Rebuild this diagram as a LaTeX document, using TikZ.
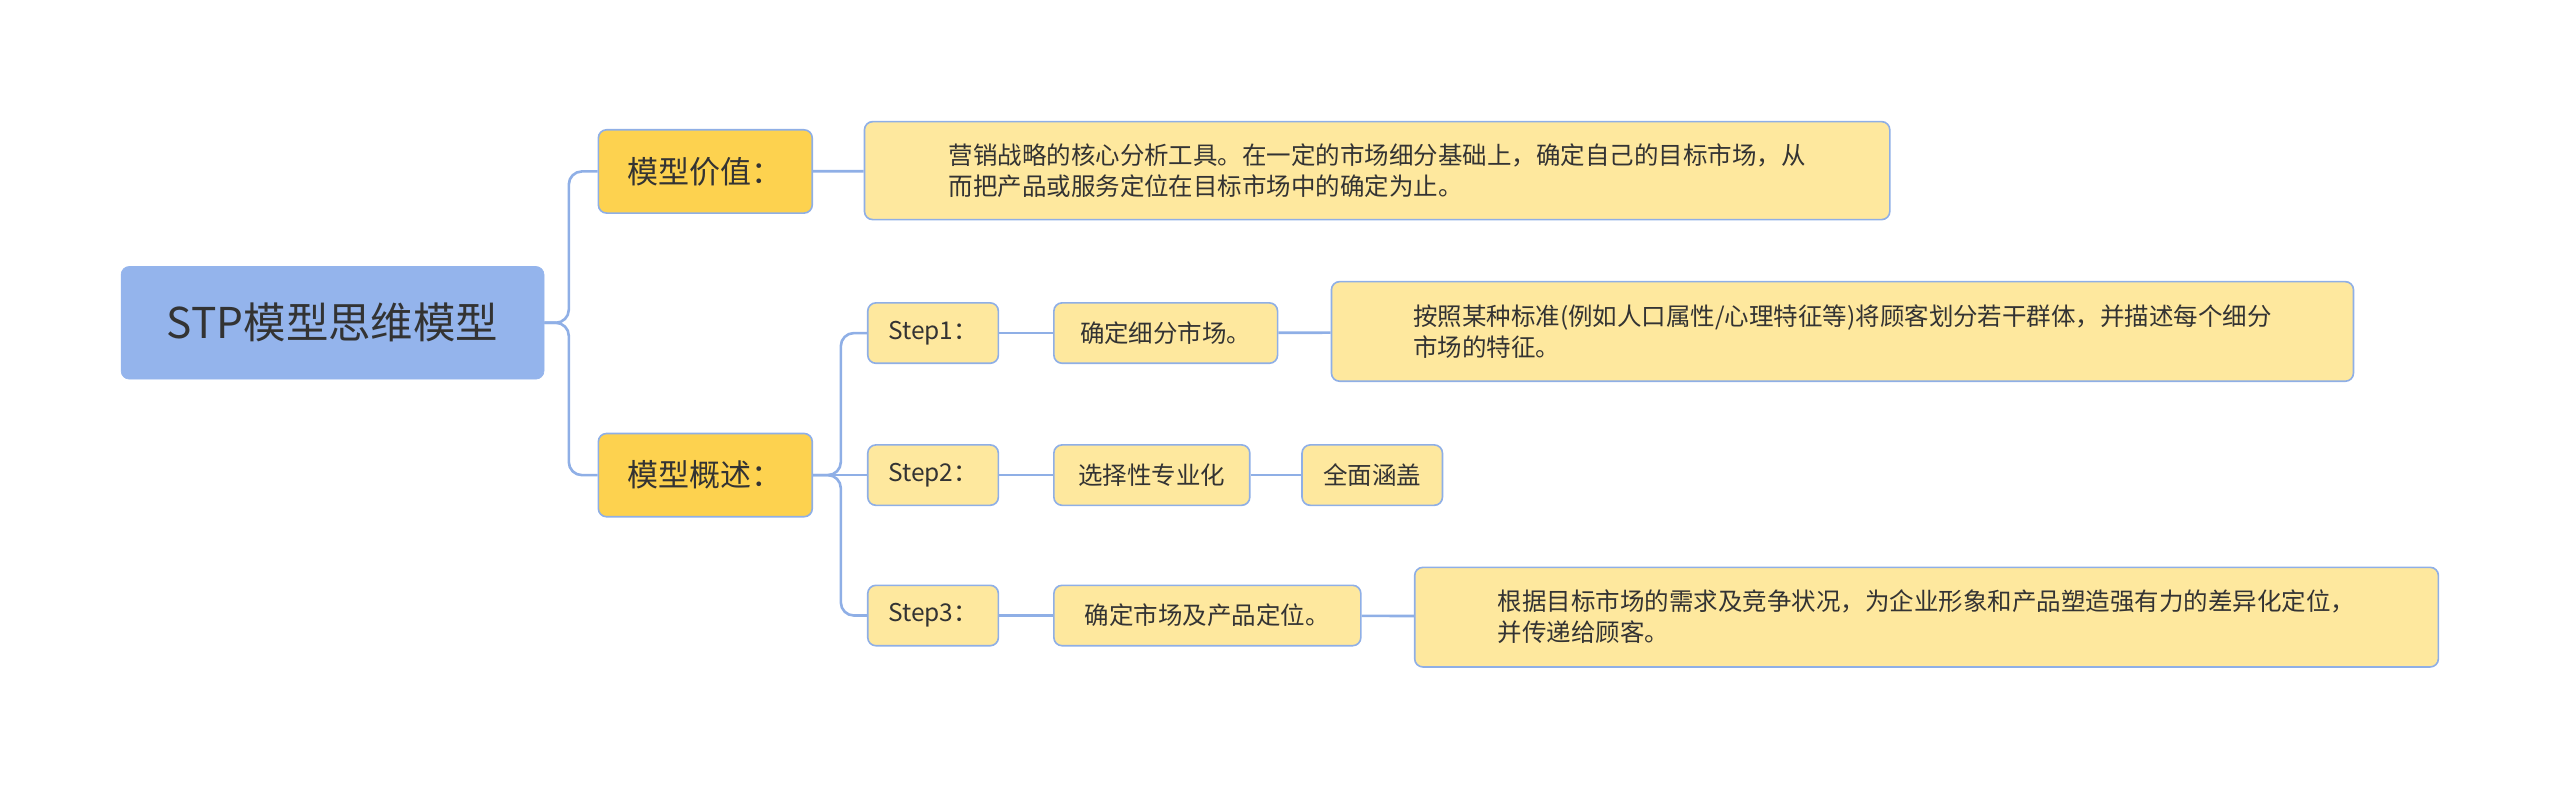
\documentclass[tikz,border=0pt]{standalone}
\usepackage{fontspec}
\setmainfont{Noto Sans CJK SC}
\definecolor{rootblue}{HTML}{94B4EC}
\definecolor{linkblue}{HTML}{8FAFE6}
\definecolor{midyel}{HTML}{FDD24F}
\definecolor{leafyel}{HTML}{FEE89E}
\definecolor{txt}{HTML}{333333}
\begin{document}
\begin{tikzpicture}[x=1pt,y=-1pt,
  every node/.style={text=txt, inner sep=0pt, anchor=north west},
  rootbox/.style={fill=rootblue, draw=rootblue, rounded corners=5pt, align=center, font=\fontsize{26}{30}\selectfont},
  midbox/.style={fill=midyel, draw=linkblue, line width=1pt, rounded corners=5pt, align=center, font=\fontsize{19}{23}\selectfont},
  leafbox/.style={fill=leafyel, draw=linkblue, line width=1pt, rounded corners=5pt, align=center, font=\fontsize{15}{19}\selectfont},
  longbox/.style={leafbox, align=left, inner xsep=9pt},
  link/.style={draw=linkblue, line width=1.6pt, rounded corners=8pt}]
\useasboundingbox (0,0) rectangle (1568,483);
\node[rootbox, minimum width=259pt, minimum height=69pt] (root) at (74,163) {STP模型思维模型};
\node[midbox, minimum width=131pt, minimum height=51pt] (value) at (366,79) {模型价值：};
\node[midbox, minimum width=131pt, minimum height=51pt] (overview) at (366,265) {模型概述：};
\node[longbox, minimum width=628pt, minimum height=60pt] (valuedesc) at (529,74) {营销战略的核心分析工具。在一定的市场细分基础上，确定自己的目标市场，从\\而把产品或服务定位在目标市场中的确定为止。};
\node[leafbox, minimum width=80pt, minimum height=37pt] (step1) at (531,185) {Step1：};
\node[leafbox, minimum width=80pt, minimum height=37pt] (step2) at (531,272) {Step2：};
\node[leafbox, minimum width=80pt, minimum height=37pt] (step3) at (531,358) {Step3：};
\node[leafbox, minimum width=137pt, minimum height=37pt] (seg) at (645,185) {确定细分市场。};
\node[longbox, minimum width=626pt, minimum height=61pt] (segdesc) at (815,172) {按照某种标准(例如人口属性/心理特征等)将顾客划分若干群体，并描述每个细分\\市场的特征。};
\node[leafbox, minimum width=120pt, minimum height=37pt] (spec) at (645,272) {选择性专业化};
\node[leafbox, minimum width=86pt, minimum height=37pt] (full) at (797,272) {全面涵盖};
\node[leafbox, minimum width=188pt, minimum height=37pt] (pos) at (645,358) {确定市场及产品定位。};
\node[longbox, minimum width=627pt, minimum height=61pt] (posdesc) at (866,347) {根据目标市场的需求及竞争状况，为企业形象和产品塑造强有力的差异化定位，\\并传递给顾客。};
% connectors
\path[link] (root.east) -- ++(15,0) |- (value.west);
\path[link] (root.east) -- ++(15,0) |- (overview.west);
\path[link] (value) -- (valuedesc);
\path[link] (overview.east) -- ++(17,0) |- (step1.west);
\path[link] (overview.east) -- (step2.west);
\path[link] (overview.east) -- ++(17,0) |- (step3.west);
\path[link] (step1) -- (seg);
\path[link] (seg) -- (segdesc);
\path[link] (step2) -- (spec);
\path[link] (spec) -- (full);
\path[link] (step3) -- (pos);
\path[link] (pos) -- (posdesc);
\end{tikzpicture}
\end{document}
